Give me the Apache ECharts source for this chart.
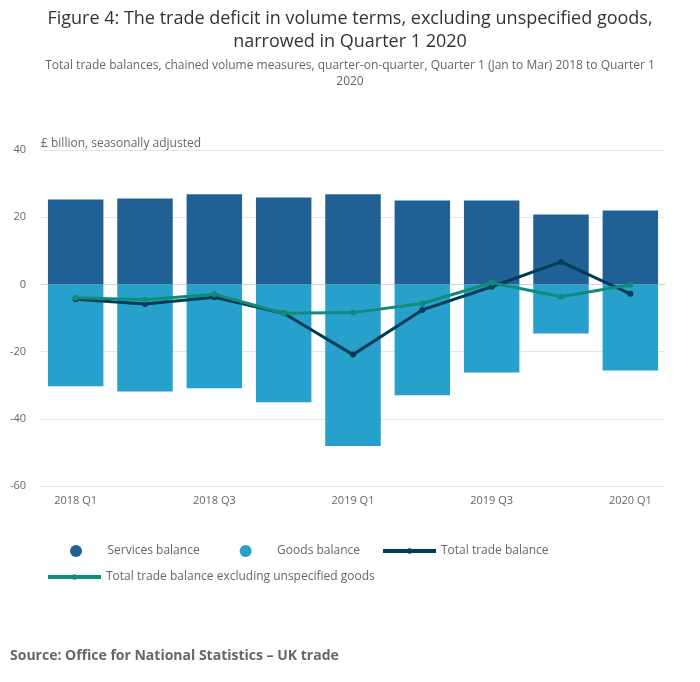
<!DOCTYPE html>
<html>
<head>
<meta charset="utf-8">
<script src="https://cdn.jsdelivr.net/npm/echarts@6/dist/echarts.min.js"></script>
<style>
  html, body { margin: 0; padding: 0; background: #fff; }
  #chart { width: 700px; height: 682px; }
</style>
</head>
<body>
<div id="chart"></div>
<script>
// quarters Q1 2018 .. Q1 2020, £ billion
var quarters = ['2018 Q1', '2018 Q2', '2018 Q3', '2018 Q4', '2019 Q1', '2019 Q2', '2019 Q3', '2019 Q4', '2020 Q1'];
var servicesBalance = [25.3, 25.6, 26.8, 25.9, 26.8, 25.0, 25.0, 20.8, 22.0];
var goodsBalance = [-30.3, -31.9, -30.9, -35.1, -48.1, -33.0, -26.2, -14.6, -25.6];
var totalBalance = [-4.4, -5.8, -3.8, -8.6, -20.9, -7.6, -0.7, 6.7, -2.8];
var totalExclUnspecified = [-4.0, -4.6, -2.9, -8.6, -8.4, -5.7, 0.5, -3.7, -0.1];

var fontFamily = '"Open Sans", "Noto Sans", sans-serif';
var legendText = { fontSize: 12, color: '#666', fontFamily: fontFamily };

var myChart = echarts.init(document.getElementById('chart'));
var option = {
  backgroundColor: '#fff',
  textStyle: { fontFamily: fontFamily },
  title: [
    {
      text: 'Figure 4: The trade deficit in volume terms, excluding unspecified goods,\nnarrowed in Quarter 1 2020',
      left: 'center',
      top: 2,
      textStyle: { fontSize: 18, fontWeight: 'normal', color: '#333', lineHeight: 23, fontFamily: fontFamily }
    },
    {
      text: 'Total trade balances, chained volume measures, quarter-on-quarter, Quarter 1 (Jan to Mar) 2018 to Quarter 1\n2020',
      left: 'center',
      top: 53,
      textStyle: { fontSize: 12, fontWeight: 'normal', color: '#666', lineHeight: 16, fontFamily: fontFamily }
    },
    {
      text: 'Source: Office for National Statistics \u2013 UK trade',
      left: 5,
      top: 644,
      textStyle: { fontSize: 14, fontWeight: 'bold', color: '#666', fontFamily: fontFamily }
    }
  ],
  legend: [
    {
      data: [
        { name: 'Services balance', icon: 'circle' },
        { name: 'Goods balance', icon: 'circle' }
      ],
      left: 65,
      top: 540,
      itemWidth: 53,
      itemHeight: 12,
      itemGap: 40,
      textStyle: legendText
    },
    {
      data: ['Total trade balance'],
      left: 376,
      top: 540,
      itemWidth: 53,
      itemHeight: 7,
      lineStyle: { width: 4 },
      textStyle: legendText
    },
    {
      data: ['Total trade balance excluding unspecified goods'],
      left: 41,
      top: 566,
      itemWidth: 53,
      itemHeight: 7,
      lineStyle: { width: 4 },
      textStyle: legendText
    }
  ],
  grid: { left: 41, right: 35, top: 150, bottom: 196 },
  xAxis: {
    type: 'category',
    data: quarters,
    axisLine: { lineStyle: { color: '#ccd6eb' } },
    axisTick: { alignWithLabel: true, interval: 1, length: 9, lineStyle: { color: '#ccd6eb' } },
    axisLabel: { interval: 1, color: '#666', fontSize: 11, margin: 9 }
  },
  yAxis: {
    type: 'value',
    min: -60,
    max: 40,
    interval: 20,
    name: '£ billion, seasonally adjusted',
    nameLocation: 'end',
    nameGap: 0,
    nameTextStyle: { align: 'left', color: '#666', fontSize: 12 },
    axisLine: { show: false },
    axisTick: { show: false },
    axisLabel: { color: '#666', fontSize: 11, margin: 15 },
    splitLine: { lineStyle: { color: '#e6e6e6' } }
  },
  series: [
    {
      name: 'Services balance',
      type: 'bar',
      stack: 'balance',
      data: servicesBalance,
      barCategoryGap: '20%',
      itemStyle: { color: '#206095' }
    },
    {
      name: 'Goods balance',
      type: 'bar',
      stack: 'balance',
      data: goodsBalance,
      barCategoryGap: '20%',
      itemStyle: { color: '#27a0cc' }
    },
    {
      name: 'Total trade balance',
      type: 'line',
      data: totalBalance,
      symbol: 'circle',
      symbolSize: 6,
      lineStyle: { color: '#003c57', width: 3 },
      itemStyle: { color: '#003c57' }
    },
    {
      name: 'Total trade balance excluding unspecified goods',
      type: 'line',
      data: totalExclUnspecified,
      symbol: 'circle',
      symbolSize: 6,
      lineStyle: { color: '#118c7b', width: 3 },
      itemStyle: { color: '#118c7b' }
    }
  ]
};

option && myChart.setOption(option);
</script>
</body>
</html>
